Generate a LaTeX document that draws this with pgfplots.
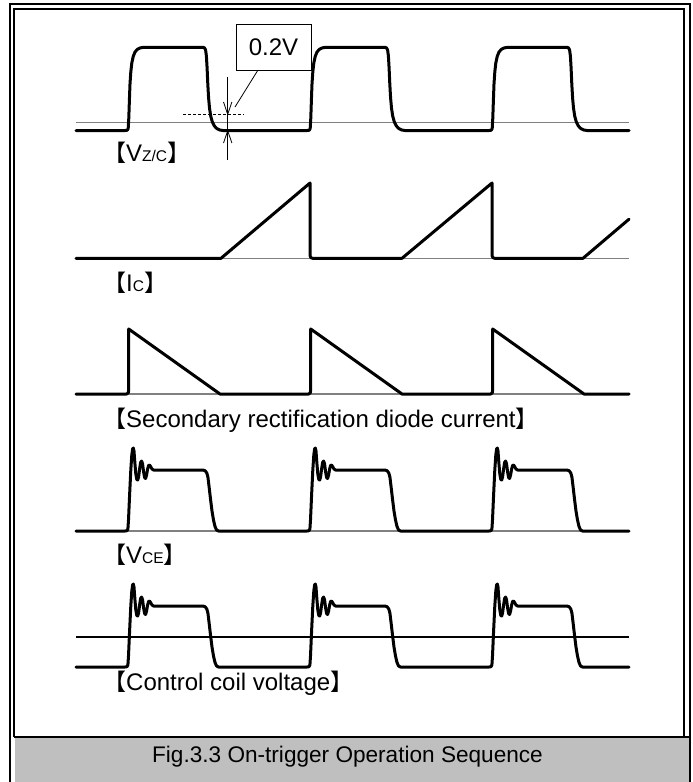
\documentclass[border=0pt]{standalone}
\usepackage{fontspec}
\setmainfont{Liberation Sans}
\newfontfamily\cjk{Noto Sans CJK JP}
\usepackage{pgfplots}
\pgfplotsset{compat=1.18}
\newcommand\lbl{\fontsize{24}{28}\selectfont}
\newcommand\sm[1]{{\fontsize{15.5}{15.5}\selectfont #1}}
\newcommand\lb{{\fontsize{23}{23}\selectfont\cjk 【}}
\newcommand\rb{{\fontsize{23}{23}\selectfont\cjk 】}}
\begin{document}
\begin{tikzpicture}[x=1pt,y=1pt]
\useasboundingbox (0,0) rectangle (693,782);
\begin{axis}[at={(0,0)},anchor=south west,width=693pt,height=782pt,scale only axis,
  xmin=0,xmax=693,ymin=0,ymax=782,y dir=reverse,axis lines=none,clip=false,
  wave/.style={black,line width=3pt,line join=round,line cap=round,mark=none},
  base/.style={color=black!50,line width=1.5pt,mark=none}]
% frame
\draw[line width=1.7pt] (9.8,4) rectangle (690,800);
\draw[line width=1.9pt] (13.8,8.6) rectangle (684,736.5);
\fill[black!25] (14.8,737.5) rectangle (689,790);
\draw[line width=1.9pt] (13.8,736.6) -- (690,736.6);
\node[font=\fontsize{22.6}{26}\selectfont,anchor=base,inner sep=0] at (347.5,762.5) {Fig.3.3 On-trigger Operation Sequence};
% baselines
\addplot[base] coordinates {(76,122.5) (629,122.5)};
\addplot[base] coordinates {(76,258.3) (629,258.3)};
\addplot[base] coordinates {(76,394) (629,394)};
\addplot[base] coordinates {(76,531) (629,531)};
\addplot[black,line width=1.1pt,mark=none] coordinates {(76,637) (629,637)};
% Vz/c
\addplot[wave] coordinates {(76,130.5) (125,130.5) (127.3,130.2) (128.2,128.5) (128.8,118) (129.4,100) (130,84) (130.8,72) (131.8,63) (133.2,56.5) (135,52) (137.4,49.3) (140.3,47.9) (143.5,47.3) (203,47.3) (204.5,47.9) (205.6,50) (206.4,56) (207.1,68) (207.8,84) (208.6,98) (209.5,108) (210.7,116) (212.2,121.5) (214.2,125.8) (216.8,128.5) (219.8,130) (223,130.5)
(307,130.5) (309.3,130.2) (310.2,128.5) (310.8,118) (311.4,100) (312,84) (312.8,72) (313.8,63) (315.2,56.5) (317,52) (319.4,49.3) (322.3,47.9) (325.5,47.3) (385,47.3) (386.5,47.9) (387.6,50) (388.4,56) (389.1,68) (389.8,84) (390.6,98) (391.5,108) (392.7,116) (394.2,121.5) (396.2,125.8) (398.8,128.5) (401.8,130) (405,130.5)
(489,130.5) (491.3,130.2) (492.2,128.5) (492.8,118) (493.4,100) (494,84) (494.8,72) (495.8,63) (497.2,56.5) (499,52) (501.4,49.3) (504.3,47.9) (507.5,47.3) (567,47.3) (568.5,47.9) (569.6,50) (570.4,56) (571.1,68) (571.8,84) (572.6,98) (573.5,108) (574.7,116) (576.2,121.5) (578.2,125.8) (580.8,128.5) (583.8,130) (587,130.5) (629,130.5)};
% annotation 0.2V
\draw[line width=0.9pt,dash pattern=on 3pt off 2pt] (183,114.3) -- (244,114.3);
\draw[line width=0.8pt] (227.7,77) -- (227.7,160);
\draw[line width=0.8pt] (223.5,102) -- (227.7,114.3) -- (231.9,102);
\draw[line width=0.8pt] (223.5,143) -- (227.7,130.8) -- (231.9,143);
\draw[line width=0.8pt] (258,70) -- (235,107);
\node[draw,line width=0.8pt,fill=white,minimum width=75pt,minimum height=46pt,inner sep=0,font=\lbl] at (273.5,47) {0.2V};
\node[anchor=base west,inner sep=0,font=\lbl] at (103,161.7) {\lb V\sm{Z/C}\rb};
% Ic
\addplot[wave] coordinates {(76,258.3) (221,258.3) (310,183) (310,255.5) (310.8,257.5) (312.5,258.3) (402,258.3) (492,183) (492,255.5) (492.8,257.5) (494.5,258.3) (583,258.3) (629,219.2)};
\node[anchor=base west,inner sep=0,font=\lbl] at (103,291.5) {\lb I\sm{C}\rb};
% diode current
\addplot[wave] coordinates {(76,394) (126.5,394) (128.2,393) (128.7,390) (128.7,329) (220,394) (308.5,394) (310.2,393) (310.7,390) (310.7,329) (402,394) (490.5,394) (492.2,393) (492.7,390) (492.7,329) (584,394) (629,394)};
\node[anchor=base west,inner sep=0,font=\lbl] at (103,427) {\lb Secondary rectification diode current\rb};
% VCE
\addplot[wave] coordinates {(76,531) (125,531) (127,530.7) (127.9,529) (128.5,520) (129.6,495) (130.8,470) (131.8,455) (132.6,449) (133.3,448) (134,451) (134.8,462) (135.8,474) (136.8,479.5) (137.7,480) (138.6,477) (139.6,469) (140.6,462.5) (141.6,461) (142.6,464) (143.6,472) (144.6,477.5) (145.6,478.5) (146.6,475) (147.6,469) (148.6,465.5) (149.6,465) (150.6,466.5) (152,469) (153.5,470) (203,470) (205.2,470.8) (206.8,473) (207.9,477) (209,486) (210.5,499) (212,511) (213.5,520) (215,526.5) (216.6,530) (218.5,531)
(307,531) (309,530.7) (309.9,529) (310.5,520) (311.6,495) (312.8,470) (313.8,455) (314.6,449) (315.3,448) (316,451) (316.8,462) (317.8,474) (318.8,479.5) (319.7,480) (320.6,477) (321.6,469) (322.6,462.5) (323.6,461) (324.6,464) (325.6,472) (326.6,477.5) (327.6,478.5) (328.6,475) (329.6,469) (330.6,465.5) (331.6,465) (332.6,466.5) (334,469) (335.5,470) (385,470) (387.2,470.8) (388.8,473) (389.9,477) (391,486) (392.5,499) (394,511) (395.5,520) (397,526.5) (398.6,530) (400.5,531)
(489,531) (491,530.7) (491.9,529) (492.5,520) (493.6,495) (494.8,470) (495.8,455) (496.6,449) (497.3,448) (498,451) (498.8,462) (499.8,474) (500.8,479.5) (501.7,480) (502.6,477) (503.6,469) (504.6,462.5) (505.6,461) (506.6,464) (507.6,472) (508.6,477.5) (509.6,478.5) (510.6,475) (511.6,469) (512.6,465.5) (513.6,465) (514.6,466.5) (516,469) (517.5,470) (567,470) (569.2,470.8) (570.8,473) (571.9,477) (573,486) (574.5,499) (576,511) (577.5,520) (579,526.5) (580.6,530) (582.5,531) (629,531)};
\node[anchor=base west,inner sep=0,font=\lbl] at (103,563) {\lb V\sm{CE}\rb};
% Control coil voltage
\addplot[wave] coordinates {(76,667) (125,667) (127,666.7) (127.9,665) (128.5,656) (129.6,631) (130.8,606) (131.8,591) (132.6,585) (133.3,584) (134,587) (134.8,598) (135.8,610) (136.8,615.5) (137.7,616) (138.6,613) (139.6,605) (140.6,598.5) (141.6,597) (142.6,600) (143.6,608) (144.6,613.5) (145.6,614.5) (146.6,611) (147.6,605) (148.6,601.5) (149.6,601) (150.6,602.5) (152,605) (153.5,606) (203,606) (205.2,606.8) (206.8,609) (207.9,613) (209,622) (210.5,635) (212,647) (213.5,656) (215,662.5) (216.6,666) (218.5,667)
(307,667) (309,666.7) (309.9,665) (310.5,656) (311.6,631) (312.8,606) (313.8,591) (314.6,585) (315.3,584) (316,587) (316.8,598) (317.8,610) (318.8,615.5) (319.7,616) (320.6,613) (321.6,605) (322.6,598.5) (323.6,597) (324.6,600) (325.6,608) (326.6,613.5) (327.6,614.5) (328.6,611) (329.6,605) (330.6,601.5) (331.6,601) (332.6,602.5) (334,605) (335.5,606) (385,606) (387.2,606.8) (388.8,609) (389.9,613) (391,622) (392.5,635) (394,647) (395.5,656) (397,662.5) (398.6,666) (400.5,667)
(489,667) (491,666.7) (491.9,665) (492.5,656) (493.6,631) (494.8,606) (495.8,591) (496.6,585) (497.3,584) (498,587) (498.8,598) (499.8,610) (500.8,615.5) (501.7,616) (502.6,613) (503.6,605) (504.6,598.5) (505.6,597) (506.6,600) (507.6,608) (508.6,613.5) (509.6,614.5) (510.6,611) (511.6,605) (512.6,601.5) (513.6,601) (514.6,602.5) (516,605) (517.5,606) (567,606) (569.2,606.8) (570.8,609) (571.9,613) (573,622) (574.5,635) (576,647) (577.5,656) (579,662.5) (580.6,666) (582.5,667) (629,667)};
\node[anchor=base west,inner sep=0,font=\lbl] at (103,690.5) {\lb Control coil voltage\rb};
\end{axis}
\end{tikzpicture}
\end{document}
